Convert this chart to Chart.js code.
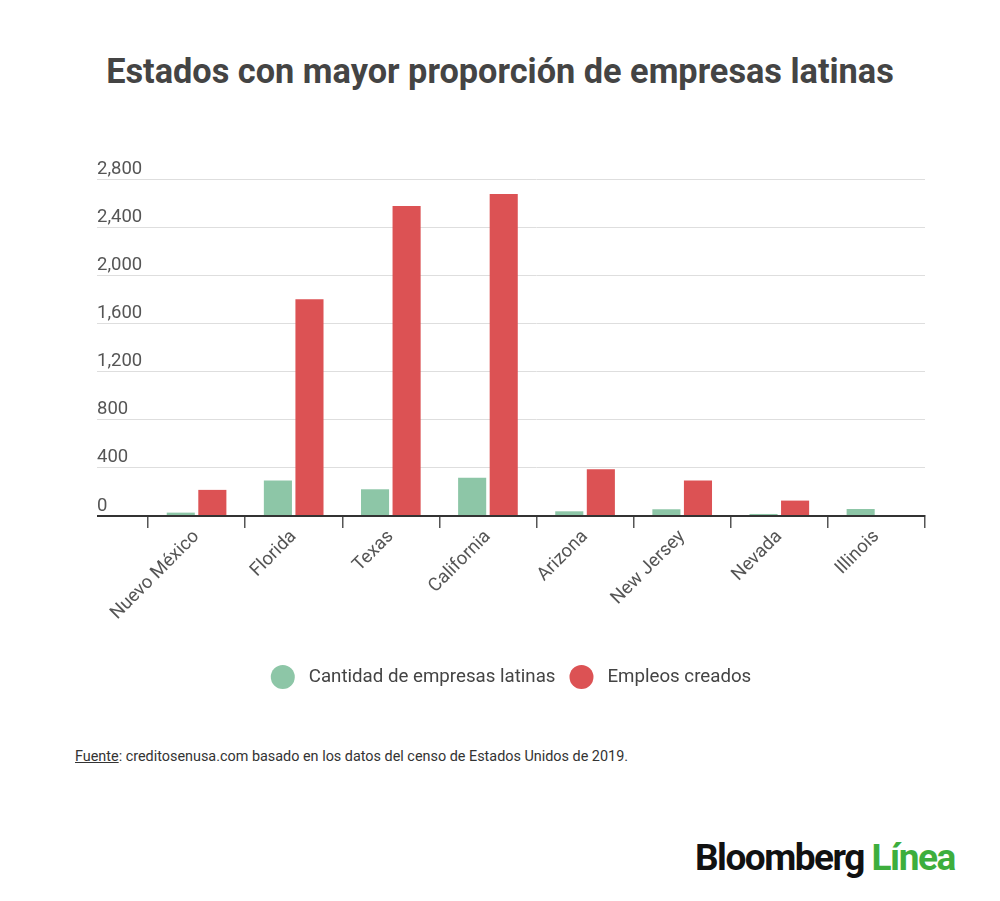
<!DOCTYPE html>
<html>
<head>
<meta charset="utf-8">
<script src="https://cdn.jsdelivr.net/npm/chart.js@4"></script>
<style>
  body { margin: 0; background: #fff; font-family: Roboto, sans-serif; }
  #titulo { position: absolute; left: 0; top: 51px; width: 1000px; text-align: center; font-size: 34.3px; font-weight: 700; color: #444; line-height: 41px; }
  #wrap { position: absolute; left: 0; top: 0; width: 1000px; height: 709px; }
  #fuente { position: absolute; left: 75px; top: 748px; font-size: 14.4px; color: #333; }
  #fuente u { text-decoration: underline; }
  #logo { position: absolute; left: 695px; top: 836px; font-size: 37px; font-weight: 700; letter-spacing: -1.5px; color: #111; }
  #logo span { color: #3dae3d; }
</style>
</head>
<body>
<div id="titulo">Estados con mayor proporción de empresas latinas</div>
<div id="wrap"><canvas id="grafico"></canvas></div>
<div id="fuente"><u>Fuente</u>: creditosenusa.com basado en los datos del censo de Estados Unidos de 2019.</div>
<div id="logo">Bloomberg <span>Línea</span></div>

<script>
const categorias = ['Nuevo México', 'Florida', 'Texas', 'California', 'Arizona', 'New Jersey', 'Nevada', 'Illinois'];
const empresas = [28, 295, 222, 317, 39, 56, 17, 58];
const empleos = [217, 1800, 2575, 2675, 389, 294, 128, 0];
const ticksY = [0, 400, 800, 1200, 1600, 2000, 2400, 2800];

const ctx = document.querySelector('#grafico').getContext('2d');

new Chart(ctx, {
    type: 'bar',
    data: {
        labels: categorias,
        datasets: [
            {
                label: 'Cantidad de empresas latinas',
                data: empresas,
                backgroundColor: '#8dc6a7',
                categoryPercentage: 0.65,
                barPercentage: 0.89
            },
            {
                label: 'Empleos creados',
                data: empleos,
                backgroundColor: '#dc5254',
                categoryPercentage: 0.65,
                barPercentage: 0.89
            }
        ]
    },
    options: {
        responsive: true,
        maintainAspectRatio: false,
        animation: false,
        layout: {
            padding: { left: 97, right: 75, top: 179, bottom: 10 }
        },
        plugins: {
            legend: {
                position: 'bottom',
                labels: {
                    boxWidth: 24,
                    boxHeight: 24,
                    useBorderRadius: true,
                    borderRadius: 12,
                    padding: 14,
                    color: '#444',
                    font: { family: 'Roboto', size: 18.7 },
                    // un espacio extra entre el circulo y el texto
                    generateLabels: (chart) => Chart.defaults.plugins.legend.labels.generateLabels(chart)
                        .map(l => Object.assign(l, { text: ' ' + l.text, lineWidth: 0 }))
                }
            },
            tooltip: { enabled: false }
        },
        scales: {
            x: {
                grid: {
                    offset: true,
                    drawOnChartArea: false,
                    tickLength: 12,
                    color: '#555',
                    lineWidth: 1.5
                },
                border: { color: '#333', width: 2 },
                ticks: {
                    minRotation: 45,
                    maxRotation: 45,
                    padding: -2,
                    color: '#555',
                    font: { family: 'Roboto', size: 18.5 }
                },
                afterFit: (scale) => { scale.height = 135; }
            },
            y: {
                min: 0,
                max: 2800,
                afterBuildTicks: (scale) => { scale.ticks = ticksY.map(v => ({ value: v })); },
                afterFit: (scale) => { scale.width = 51; },
                border: { display: false },
                grid: {
                    tickLength: 51,
                    color: (c) => c.tick && c.tick.value === 0 ? '#333' : '#dedede',
                    lineWidth: (c) => c.tick && c.tick.value === 0 ? 2 : 1
                },
                ticks: {
                    crossAlign: 'far',
                    labelOffset: -10,
                    padding: 0,
                    color: '#555',
                    font: { family: 'Roboto', size: 18.5 },
                    callback: (v) => Number(v).toLocaleString('en-US')
                }
            }
        }
    }
});
</script>
</body>
</html>
